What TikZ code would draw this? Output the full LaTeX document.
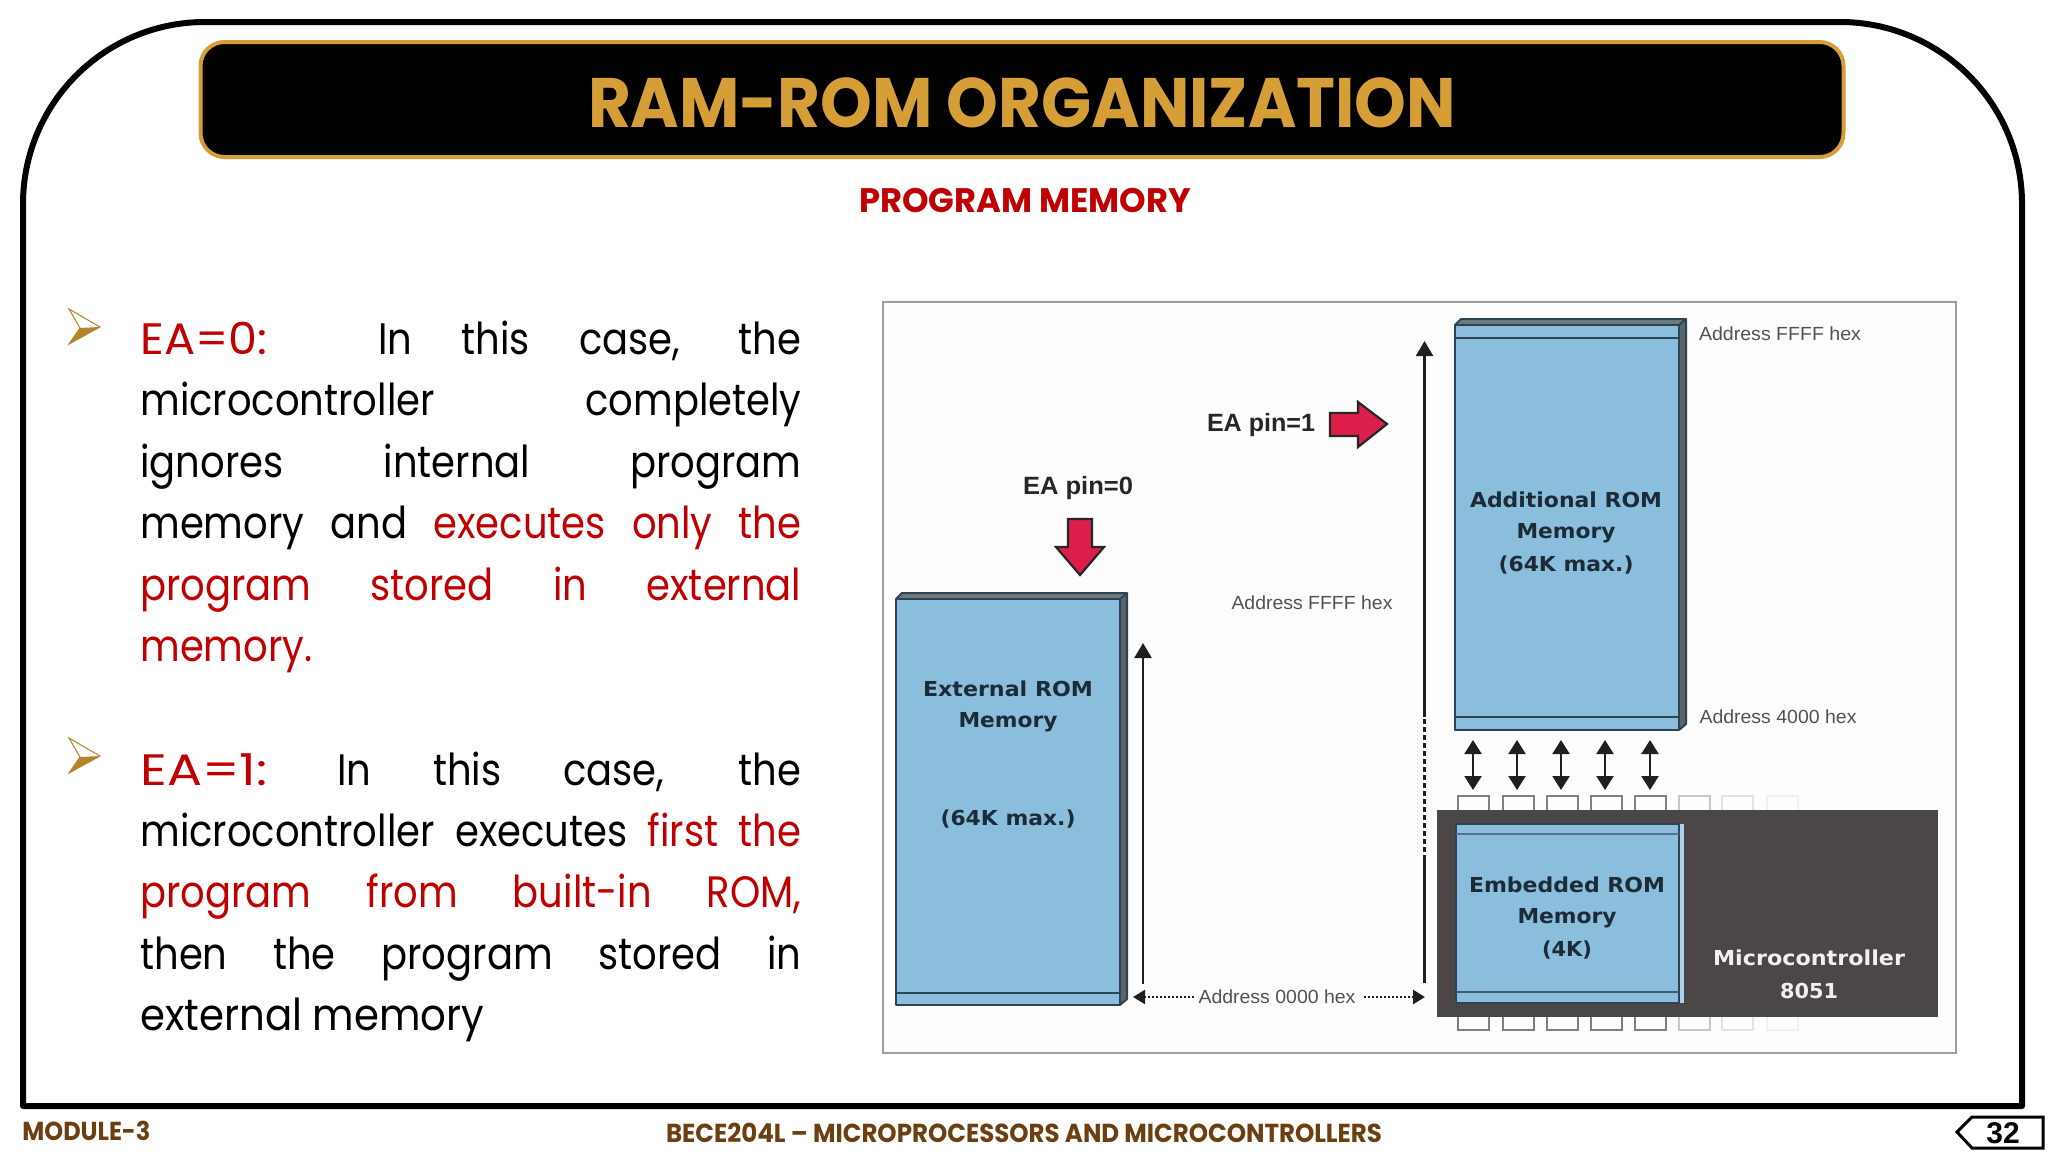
\documentclass[tikz,border=0pt]{standalone}
\usepackage{fontspec}
\usepackage{graphicx}
\usetikzlibrary{arrows.meta}
\setmainfont{Liberation Sans}
\newfontfamily\bodyf[FakeStretch=0.875]{Poppins}
\newfontfamily\titlef{Poppins}
\newfontfamily\diagf{Liberation Sans}
\newfontfamily\heavyf{DejaVu Sans}
\newsavebox\fitbox
\newcommand\fitw[2]{\sbox\fitbox{#2}\pgfmathsetmacro\fitr{(#1/2)/\the\wd\fitbox}\scalebox{\fitr}[1]{\usebox\fitbox}}
\definecolor{gold}{HTML}{D69E37}
\definecolor{bull}{HTML}{B5832A}
\definecolor{rd}{HTML}{C00000}
\definecolor{foot}{HTML}{6B3F10}
\definecolor{blk}{HTML}{8BBDDC}
\definecolor{edge}{HTML}{2C4454}
\definecolor{ink}{HTML}{1C2B38}
\definecolor{chip}{HTML}{4B4647}
\definecolor{pinred}{HTML}{DC1F4A}
\definecolor{facegrey}{HTML}{5B6468}
\definecolor{topgrey}{HTML}{6F7A7F}
\definecolor{figbg}{HTML}{FCFDFC}
\tikzset{
 bodyline/.style={anchor=base west,inner sep=0pt,font=\bodyf\fontsize{22}{26}\selectfont,text=black},
 blocklabel/.style={font=\heavyf\bfseries\fontsize{10.3}{12}\selectfont,text=ink,inner sep=0pt},
 addrlabel/.style={font=\diagf\fontsize{9.5}{11}\selectfont,text=black!68,inner sep=0pt},
 pinlabel/.style={font=\diagf\bfseries\fontsize{12.5}{14}\selectfont,text=black!85,inner sep=0pt},
 footlabel/.style={font=\titlef\bfseries\fontsize{13}{15}\selectfont,text=foot,inner sep=0pt},
 blockfill/.style={fill=blk,draw=edge,line width=1pt,line join=round},
 redarrow/.style={fill=pinred,draw=black!85,line width=1.1pt,line join=miter},
 axis/.style={draw=black!88,line width=1.2pt},
 uphead/.style={-{Triangle[length=7.5pt,width=8.5pt]}},
 twohead/.style={{Triangle[length=7pt,width=8.5pt]}-{Triangle[length=7pt,width=8.5pt]},draw=black!88,line width=1.1pt},
 pinbox/.style={draw=#1,line width=.7pt,fill=none},
}
\newcommand\bullmark[1]{%
 \begin{scope}[yshift=#1]
  \fill[bull] (69,344) -- (100,327) -- (80,328) -- cycle;
  \draw[bull,line width=.5pt,line join=miter] (80,328) -- (69,309) -- (100,327) -- (69,344) -- cycle;
 \end{scope}}
\newcommand\jline[2]{\node[bodyline] at (140,#1) {\makebox[330.5pt][s]{#2}};}
\newcommand\pline[2]{\node[bodyline] at (140,#1) {#2};}
\begin{document}
\begin{tikzpicture}[x=0.5pt,y=-0.5pt]
\useasboundingbox (0,0) rectangle (2048,1152);
\fill[white] (0,0) rectangle (2048,1152);
% outer frame
\draw[black,line width=3pt,line join=round] (23,1106) -- (23,204) arc[start angle=180,end angle=270,radius=182] -- (1840,22) arc[start angle=270,end angle=360,radius=182] -- (2022,1106) -- cycle;
% title
\node[draw=gold,fill=black,line width=2pt,rounded corners=12pt,minimum width=821.5pt,minimum height=57.5pt,inner sep=0pt] (title) at (1022,99.5) {};
\node[inner sep=0pt,text=gold,font=\titlef\bfseries\fontsize{35}{40}\selectfont] (titletext) at (1022,103) {\fitw{868}{RAM-ROM ORGANIZATION}};
\node[inner sep=0pt,text=rd,font=\titlef\bfseries\fontsize{17}{20}\selectfont] (sub) at (1025,201) {\fitw{332}{PROGRAM MEMORY}};
% bullets
\bullmark{0pt}
\bullmark{-214.5pt}
% first paragraph
\jline{354}{\textcolor{rd}{\fitw{127}{EA=0:}}\hspace{31pt} In this case, the}
\jline{415.5}{microcontroller completely}
\jline{477}{ignores internal program}
\jline{538}{memory and \textcolor{rd}{executes only the}}
\jline{600}{\textcolor{rd}{program stored in external}}
\pline{661}{\textcolor{rd}{memory.}}
% second paragraph
\jline{785}{\textcolor{rd}{\fitw{127}{EA=1:}}\hspace{4pt} In this case, the}
\jline{846}{microcontroller executes \textcolor{rd}{first the}}
\jline{907}{\textcolor{rd}{program from built-in ROM,}}
\jline{969}{then the program stored in}
\pline{1030}{\fitw{344}{external memory}}
% figure frame
\draw[draw=black!38,fill=figbg,line width=.7pt] (883,302) rectangle (1956,1053);
% external ROM block
\fill[topgrey] (896,599) -- (902,593) -- (1127,593) -- (1120,599) -- cycle;
\fill[facegrey] (1120,599) -- (1127,593) -- (1127,999) -- (1120,1005) -- cycle;
\draw[edge,line width=1pt,line join=round] (896,599) -- (902,593) -- (1127,593) -- (1127,999) -- (1120,1005) (1120,599) -- (1127,593);
\draw[blockfill] (896,599) rectangle (1120,1005);
\draw[edge,line width=.7pt] (896,993) -- (1120,993);
\node[blocklabel] (ext1) at (1008,689) {\fitw{170}{External ROM}};
\node[blocklabel] (ext2) at (1008,722) {\fitw{99}{Memory}};
\node[blocklabel] (ext3) at (1008,819) {\fitw{135}{(64K max.)}};
% additional ROM block
\fill[topgrey] (1455,325) -- (1461,319) -- (1686,319) -- (1679,325) -- cycle;
\fill[facegrey] (1679,325) -- (1686,319) -- (1686,724) -- (1679,730) -- cycle;
\draw[edge,line width=1pt,line join=round] (1455,325) -- (1461,319) -- (1686,319) -- (1686,724) -- (1679,730) (1679,325) -- (1686,319);
\draw[blockfill] (1455,325) rectangle (1679,730);
\draw[edge,line width=.7pt] (1455,338) -- (1679,338) (1455,717) -- (1679,717);
\node[blocklabel] (add1) at (1566,500) {\fitw{192}{Additional ROM}};
\node[blocklabel] (add2) at (1566,533) {\fitw{99}{Memory}};
\node[blocklabel] (add3) at (1566,565) {\fitw{135}{(64K max.)}};
% pins
\foreach \px/\pc [count=\pi] in {1458/black!50,1503/black!50,1547/black!50,1591/black!50,1635/black!50,1679/black!22,1722/black!11,1767/black!6}{
 \draw[pinbox=\pc] (\px,810) -- (\px,796) -- ++(31,0) -- ++(0,14);
 \draw[pinbox=\pc] (\px,1017) -- (\px,1030) -- ++(31,0) -- ++(0,-13);
}
% chip
\node[fill=chip,minimum width=250.5pt,minimum height=103.5pt,inner sep=0pt,anchor=north west] (mcu) at (1437,810) {};
% embedded ROM block
\fill[blk!70!white] (1679,824) -- (1684,824) -- (1684,1003) -- (1679,1003) -- cycle;
\draw[blockfill] (1456,824) rectangle (1679,1003);
\draw[edge!60!blk,line width=1.4pt] (1456,834) -- (1679,834);
\draw[edge!80!blk,line width=.8pt] (1456,992) -- (1679,992);
\node[blocklabel] (emb1) at (1567,885) {\fitw{196}{Embedded ROM}};
\node[blocklabel] (emb2) at (1567,918) {\fitw{99}{Memory}};
\node[blocklabel] (emb3) at (1567,950) {\fitw{50}{(4K)}};
\node[blocklabel,text=white!94!black] (mc1) at (1809,958) {\fitw{192}{Microcontroller}};
\node[blocklabel,text=white!94!black] (mc2) at (1809,991) {\fitw{58}{8051}};
% bidirectional arrows
\foreach \ax [count=\ai] in {1473,1517,1561,1605,1650}{
 \coordinate (bt\ai) at (\ax,740);
 \coordinate (bb\ai) at (\ax,790);
 \draw[twohead] (bt\ai) -- (bb\ai);
}
% address axes
\coordinate (la) at (1143,984);
\coordinate (lb) at (1143,643);
\draw[axis,uphead] (la) -- (lb);
\coordinate (ra) at (1424.5,983);
\coordinate (rb) at (1424.5,860);
\coordinate (rc) at (1424.5,717);
\coordinate (rd1) at (1424.5,341);
\draw[axis] (ra) -- (rb);
\draw[axis,dash pattern=on 2.5pt off 1.5pt] (rb) -- (rc);
\draw[axis,uphead] (rc) -- (rd1);
% address labels
\node[addrlabel] (a1) at (1780,334) {\fitw{162}{Address FFFF hex}};
\node[addrlabel] (a2) at (1312,603) {\fitw{161}{Address FFFF hex}};
\node[addrlabel] (a3) at (1778,717) {\fitw{157}{Address 4000 hex}};
\node[addrlabel] (a4) at (1277,997) {\fitw{157}{Address 0000 hex}};
\coordinate (tl) at (1133,997);
\coordinate (tr) at (1425,997);
\draw[axis,dash pattern=on 1pt off 1pt,-{Triangle[length=6pt,width=7pt]}] (a4.west) ++(-4,0) -- (tl);
\draw[axis,dash pattern=on 1pt off 1pt,-{Triangle[length=6pt,width=7pt]}] (a4.east) ++(8,0) -- (tr);
% EA labels and arrows
\node[pinlabel] (ea0) at (1078,488) {\fitw{110}{EA pin=0}};
\node[pinlabel] (ea1) at (1261,425) {\fitw{108}{EA pin=1}};
\draw[redarrow] (1068,519) -- (1092,519) -- (1092,547) -- (1104,547) -- (1080,575) -- (1056,547) -- (1068,547) -- cycle;
\draw[redarrow] (1330,413) -- (1358,413) -- (1358,402) -- (1387,424) -- (1358,447) -- (1358,436) -- (1330,436) -- cycle;
% footer
\node[footlabel,anchor=west] (fl) at (22,1131) {\fitw{128}{MODULE-3}};
\node[footlabel] (fc) at (1024,1133) {\fitw{716}{BECE204L – MICROPROCESSORS AND MICROCONTROLLERS}};
\draw[black,line width=1.5pt,line join=miter] (1957,1132) -- (1972,1117) -- (2043,1117) -- (2043,1148) -- (1972,1148) -- cycle;
\node[inner sep=0pt,font=\diagf\bfseries\fontsize{15}{18}\selectfont] (pg) at (2003,1133) {32};
\end{tikzpicture}
\end{document}
